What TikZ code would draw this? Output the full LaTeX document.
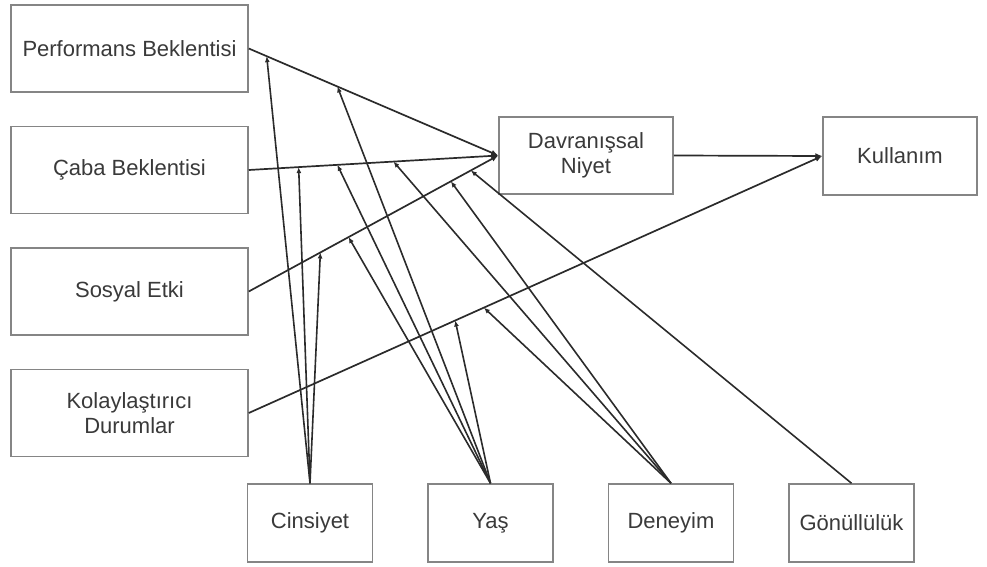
\documentclass[tikz,border=0pt]{standalone}
\usepackage{fontspec}
\setmainfont{Liberation Sans}
\usetikzlibrary{arrows.meta,positioning,calc}
\definecolor{cInk}{HTML}{2B2B2B}
\definecolor{cText}{HTML}{3A3A3A}
\definecolor{cFrame}{HTML}{858585}
\tikzset{
  box/.style={draw=cFrame, line width=1.5pt, fill=white, text=cText,
    inner sep=0pt, align=center, font=\fontsize{22}{25}\selectfont},
  cbox/.style={box, minimum width=237pt, minimum height=87pt},
  mbox/.style={box, minimum width=125pt, minimum height=78pt},
}

\begin{document}
\begin{tikzpicture}[
  x=1pt, y=-1pt,
  node distance=33pt and 54pt,
  arr/.style={cInk, line width=1.7pt, -{Latex[length=7pt,width=6pt]}},
  marr/.style={cInk, line width=1.6pt, -{Latex[length=6pt,width=5pt]}},
]
\useasboundingbox (0,0) rectangle (987,567);

% ============================================================ constructs
\node[cbox] (pe) at (129.5,48.5) {Performans Beklentisi};
\node[cbox, below=of pe] (ee) {Çaba Beklentisi};
\node[cbox, below=of ee] (si) {Sosyal Etki};
\node[cbox, below=of si] (fc) {Kolaylaştırıcı\\Durumlar};
\node[box, minimum width=174pt, minimum height=77pt] (dn) at (586,155.5) {Davranışsal\\Niyet};
\node[box, minimum width=154pt, minimum height=78pt] (ku) at (900,156) {Kullanım};

% ============================================================ moderators
\node[mbox] (cin) at (310,523) {Cinsiyet};
\node[mbox, right=of cin] (yas) {Yaş};
\node[mbox, right=of yas] (den) {Deneyim};
\node[mbox, right=of den] (gon) {Gönüllülük};

% main paths
\draw[arr] (pe.east) -- (dn.west);
\draw[arr] (ee.east) -- (dn.west);
\draw[arr] (si.east) -- (dn.west);
\draw[arr] (fc.east) -- (ku.west);
\draw[arr] (dn.east) -- (ku.west);

% points where the moderator arrows meet the paths
\coordinate (peC) at ($(pe.east)!0.072!(dn.west)$);
\coordinate (peY) at ($(pe.east)!0.355!(dn.west)$);
\coordinate (eeC) at ($(ee.east)!0.2!(dn.west)$);
\coordinate (eeY) at ($(ee.east)!0.355!(dn.west)$);
\coordinate (eeD) at ($(ee.east)!0.58!(dn.west)$);
\coordinate (siC) at ($(si.east)!0.287!(dn.west)$);
\coordinate (siY) at ($(si.east)!0.40!(dn.west)$);
\coordinate (siD) at ($(si.east)!0.81!(dn.west)$);
\coordinate (siG) at ($(si.east)!0.89!(dn.west)$);
\coordinate (fcY) at ($(fc.east)!0.36!(ku.west)$);
\coordinate (fcD) at ($(fc.east)!0.41!(ku.west)$);

\foreach \m/\p in {cin/peC,cin/eeC,cin/siC,yas/peY,yas/eeY,yas/siY,yas/fcY,
  den/eeD,den/siD,den/fcD,gon/siG} {
  \draw[marr] (\m.north) -- (\p);
}
\end{tikzpicture}
\end{document}
